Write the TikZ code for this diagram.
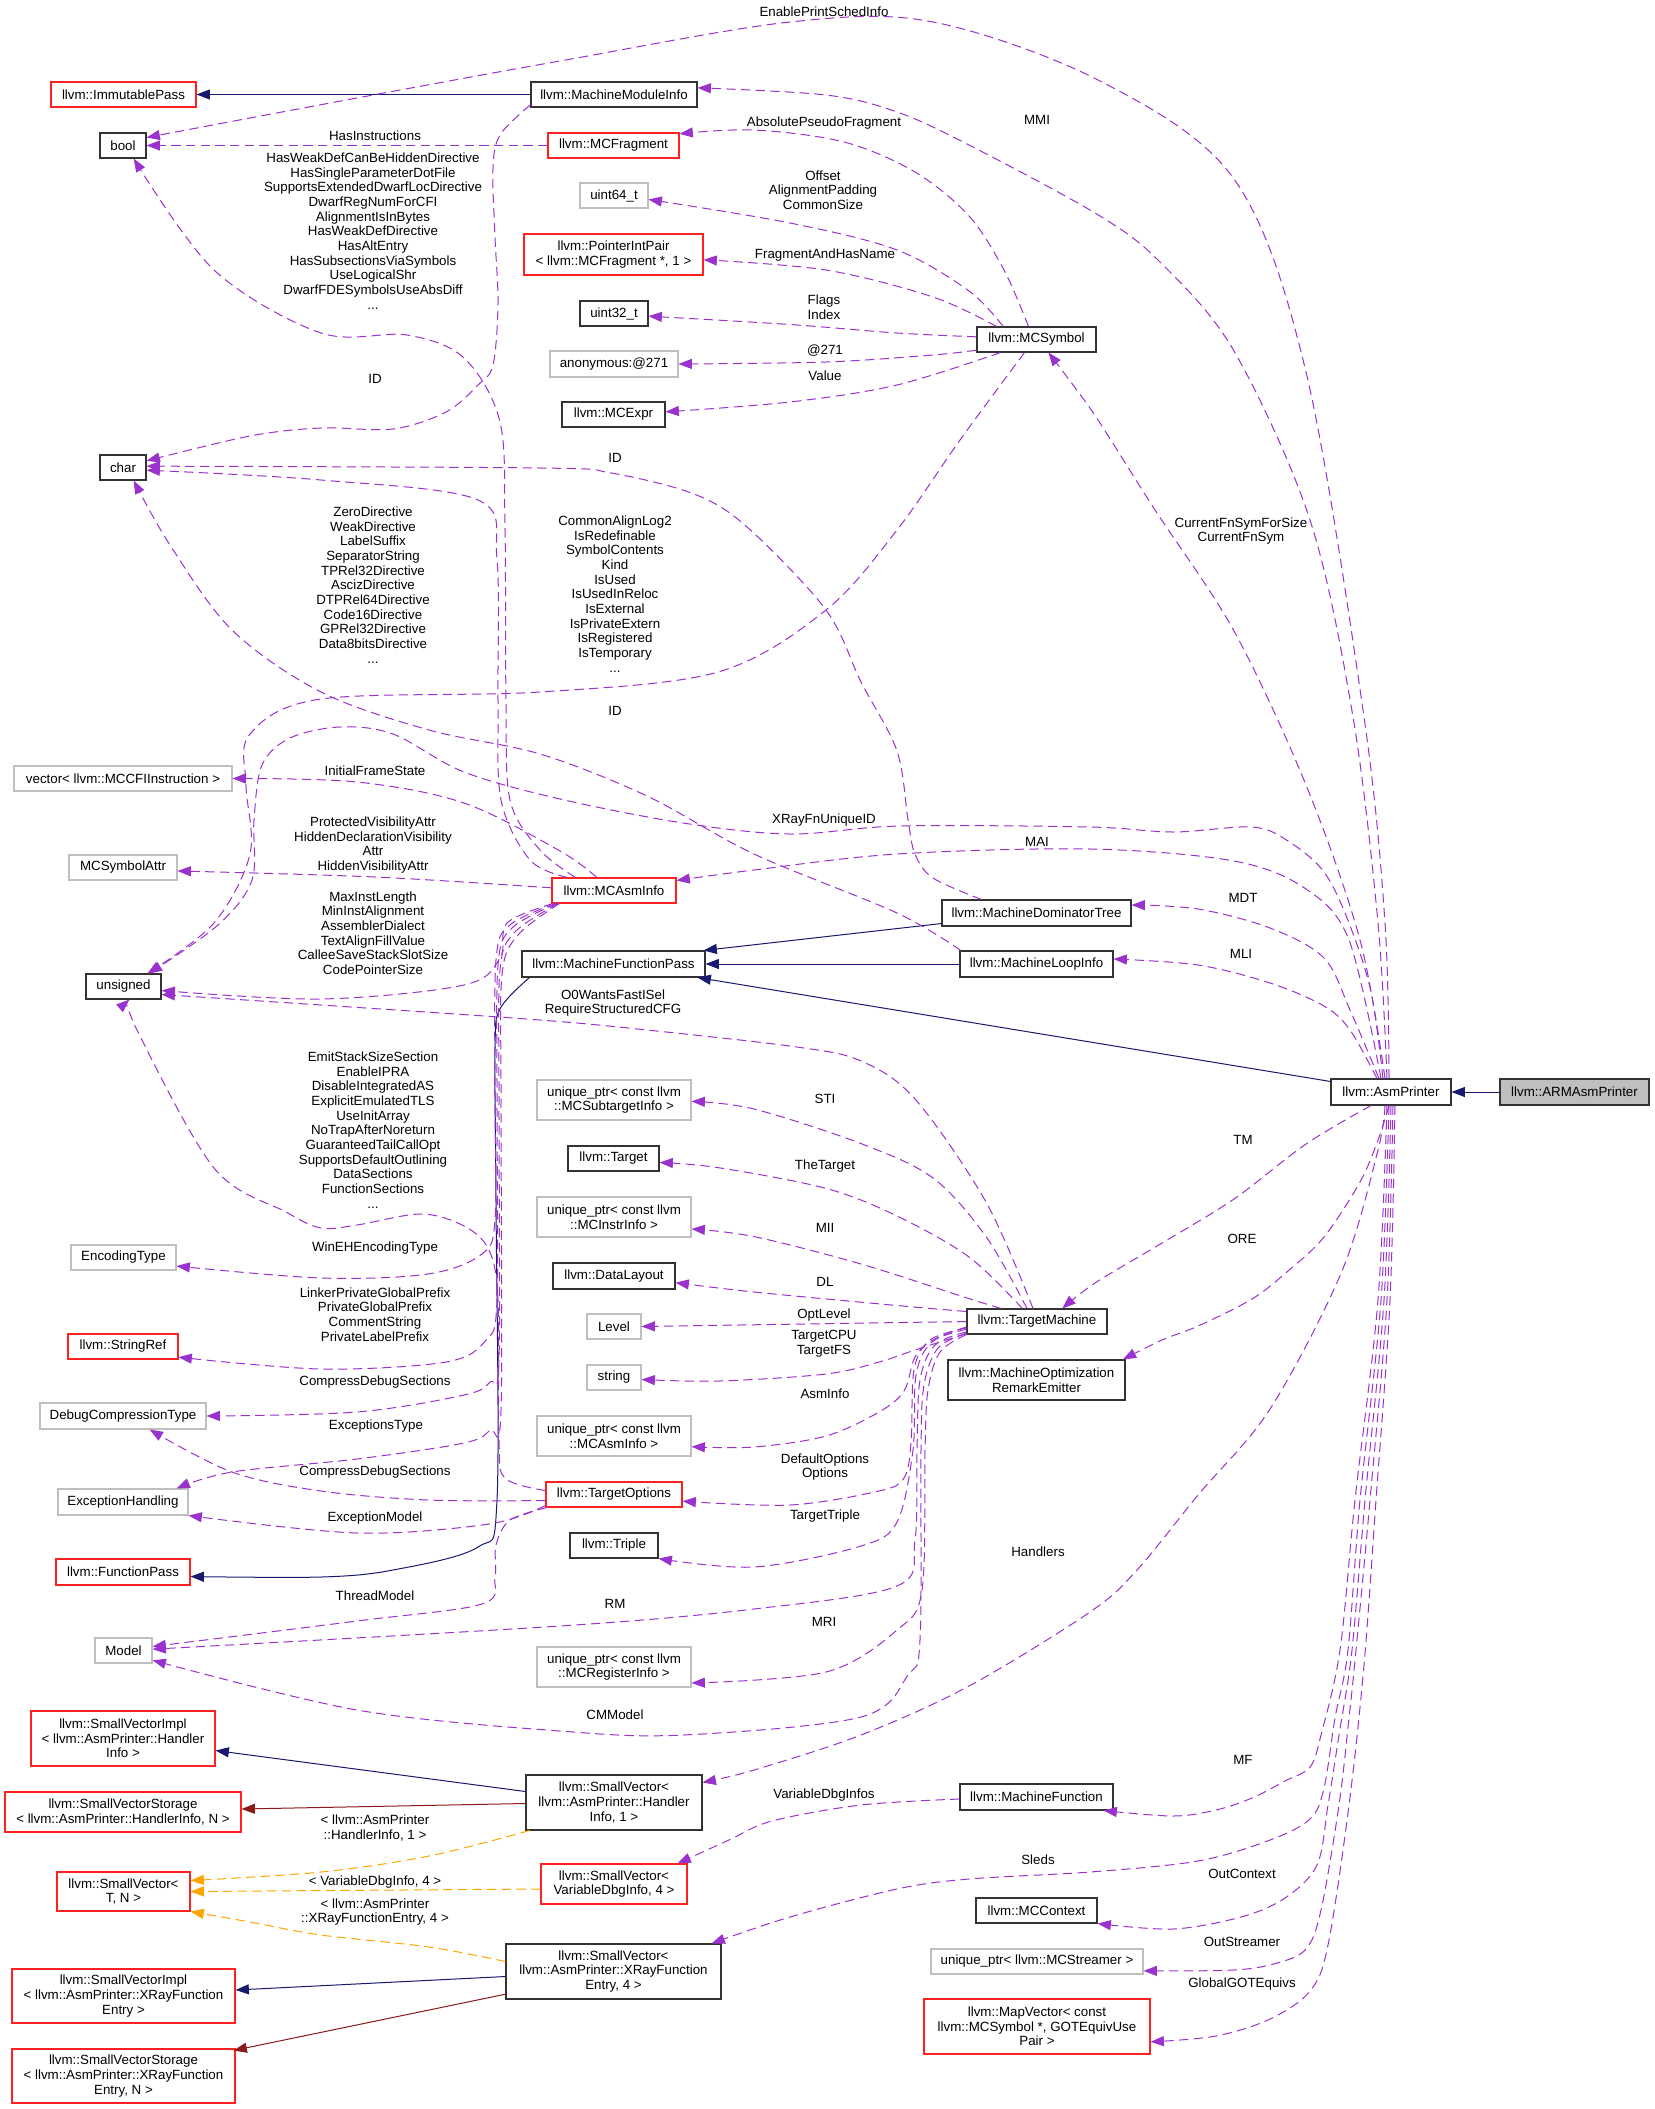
\documentclass[tikz,border=0pt]{standalone}
\usepackage{fontspec}
\setmainfont{Liberation Sans}
\usetikzlibrary{arrows.meta,calc}
\definecolor{usec}{HTML}{9A32CD}
\definecolor{inhc}{HTML}{191970}
\definecolor{privc}{HTML}{8B1A1A}
\definecolor{tmplc}{HTML}{FFA500}
\definecolor{grayb}{HTML}{BFBFBF}
\definecolor{redb}{HTML}{FF2020}
\definecolor{blkb}{HTML}{333333}
\tikzset{
 box/.style={draw, rectangle, inner sep=0pt, align=center, font=\fontsize{10}{11}\selectfont, line width=0.8pt},
 bk/.style={box, draw=blkb},
 rd/.style={box, draw=redb},
 gy/.style={box, draw=grayb},
 armbox/.style={box, draw=blkb, fill=grayb},
 memb/.style={draw=usec, line width=0.75pt, dash pattern=on 7pt off 4pt, -{Triangle[length=10pt,width=7.5pt]}},
 inh/.style={draw=inhc, line width=0.75pt, -{Triangle[length=10pt,width=7.5pt]}},
 priv/.style={draw=privc, line width=0.75pt, -{Triangle[length=10pt,width=7.5pt]}},
 tmpl/.style={draw=tmplc, line width=0.75pt, dash pattern=on 7pt off 4pt, -{Triangle[length=10pt,width=7.5pt]}},
 lbl/.style={inner sep=0pt, align=center, font=\fontsize{10}{11}\selectfont},
}
\newcommand{\bx}[7]{\node[#6,minimum width={(#4-#2)*0.75pt},minimum height={(#5-#3)*0.75pt}] (#1) at ({(#2+#4)/2},{(#3+#5)/2}) {#7};}
\newcommand{\lb}[4]{\node[lbl] (#1) at (#2,#3) {#4};}
\begin{document}
\begin{tikzpicture}[x=0.75pt,y=-0.75pt]
\fill[white] (0,0) rectangle (1655,2109);
\useasboundingbox (0,0) rectangle (1655,2109);
% ---------------- nodes ----------------
\bx{imm}{51}{82}{196}{107}{rd}{llvm::ImmutablePass}
\bx{bool}{100}{133}{146}{158}{bk}{bool}
\bx{mmi}{531}{82}{697}{107}{bk}{llvm::MachineModuleInfo}
\bx{frag}{548}{133}{679}{158}{rd}{llvm::MCFragment}
\bx{u64}{580}{183}{648}{208}{gy}{uint64\_t}
\bx{pip}{524}{234}{703}{275}{rd}{llvm::PointerIntPair\\< llvm::MCFragment *, 1 >}
\bx{u32}{580}{301}{648}{326}{bk}{uint32\_t}
\bx{anon}{550}{351}{678}{377}{gy}{anonymous:@271}
\bx{expr}{562}{402}{665}{427}{bk}{llvm::MCExpr}
\bx{sym}{977}{327}{1096}{352}{bk}{llvm::MCSymbol}
\bx{char}{100}{455}{146}{480}{bk}{char}
\bx{vec}{14}{766}{232}{791}{gy}{vector< llvm::MCCFIInstruction >}
\bx{attr}{69}{855}{177}{880}{gy}{MCSymbolAttr}
\bx{mai}{552}{878}{676}{903}{rd}{llvm::MCAsmInfo}
\bx{mdt}{942}{900}{1131}{926}{bk}{llvm::MachineDominatorTree}
\bx{mli}{960}{951}{1113}{977}{bk}{llvm::MachineLoopInfo}
\bx{mfp}{522}{951}{705}{977}{bk}{llvm::MachineFunctionPass}
\bx{uns}{86}{974}{161}{999}{bk}{unsigned}
\bx{sti}{537}{1080}{691}{1120}{gy}{unique\_ptr< const llvm\\::MCSubtargetInfo >}
\bx{target}{568}{1146}{659}{1171}{bk}{llvm::Target}
\bx{mii}{537}{1197}{691}{1237}{gy}{unique\_ptr< const llvm\\::MCInstrInfo >}
\bx{enc}{71}{1245}{176}{1270}{gy}{EncodingType}
\bx{dl}{553}{1263}{675}{1289}{bk}{llvm::DataLayout}
\bx{level}{587}{1314}{641}{1339}{gy}{Level}
\bx{tm}{967}{1309}{1107}{1334}{bk}{llvm::TargetMachine}
\bx{sref}{68}{1334}{178}{1359}{rd}{llvm::StringRef}
\bx{string}{587}{1365}{641}{1390}{gy}{string}
\bx{ore}{948}{1360}{1125}{1400}{bk}{llvm::MachineOptimization\\RemarkEmitter}
\bx{dct}{40}{1403}{206}{1429}{gy}{DebugCompressionType}
\bx{amai}{537}{1416}{691}{1456}{gy}{unique\_ptr< const llvm\\::MCAsmInfo >}
\bx{topt}{546}{1482}{682}{1507}{rd}{llvm::TargetOptions}
\bx{eh}{58}{1489}{188}{1515}{gy}{ExceptionHandling}
\bx{triple}{570}{1533}{658}{1558}{bk}{llvm::Triple}
\bx{fp}{56}{1559}{190}{1585}{rd}{llvm::FunctionPass}
\bx{asmp}{1331}{1079}{1451}{1105}{bk}{llvm::AsmPrinter}
\bx{arm}{1500}{1079}{1649}{1105}{armbox}{llvm::ARMAsmPrinter}
\bx{model}{95}{1638}{152}{1663}{gy}{Model}
\bx{mri}{537}{1647}{691}{1687}{gy}{unique\_ptr< const llvm\\::MCRegisterInfo >}
\bx{svih}{31}{1711}{215}{1766}{rd}{llvm::SmallVectorImpl\\< llvm::AsmPrinter::Handler\\Info >}
\bx{svhi1}{526}{1775}{702}{1830}{bk}{llvm::SmallVector<\\ llvm::AsmPrinter::Handler\\Info, 1 >}
\bx{mf}{960}{1784}{1113}{1810}{bk}{llvm::MachineFunction}
\bx{svsh}{5}{1792}{241}{1832}{rd}{llvm::SmallVectorStorage\\< llvm::AsmPrinter::HandlerInfo, N >}
\bx{svvdi}{541}{1864}{687}{1904}{rd}{llvm::SmallVector<\\VariableDbgInfo, 4 >}
\bx{svtn}{57}{1872}{190}{1911}{rd}{llvm::SmallVector<\\T, N >}
\bx{mcctx}{976}{1898}{1097}{1923}{bk}{llvm::MCContext}
\bx{svx4}{506}{1944}{721}{1999}{bk}{llvm::SmallVector<\\llvm::AsmPrinter::XRayFunction\\Entry, 4 >}
\bx{strm}{931}{1949}{1143}{1974}{gy}{unique\_ptr< llvm::MCStreamer >}
\bx{svix}{12}{1969}{235}{2023}{rd}{llvm::SmallVectorImpl\\< llvm::AsmPrinter::XRayFunction\\Entry >}
\bx{mapv}{924}{1999}{1150}{2054}{rd}{llvm::MapVector< const\\llvm::MCSymbol *, GOTEquivUse\\Pair >}
\bx{svsx}{12}{2049}{235}{2103}{rd}{llvm::SmallVectorStorage\\< llvm::AsmPrinter::XRayFunction\\Entry, N >}
% ---------------- inheritance ----------------
\draw[inh] (mmi.west) -- (imm.east);
\draw[inh] ([yshift=2.25pt]mdt.south west) -- ([xshift=-1.5pt]mfp.north east);
\draw[inh] (mli.west) -- (mfp.east);
\draw[inh] ([yshift=-2.25pt]asmp.north west) -- ([xshift=-6pt]mfp.south east);
\draw[inh] (arm.west) -- (asmp.east);
\draw[inh] plot[smooth,tension=0.55] coordinates {([xshift=6pt]mfp.south west) (500,1009) (495,1050) (496,1200) (497,1500) (478,1547) (393,1570) (321,1577) ([yshift=-3.4pt]fp.east)};
\draw[inh] ([yshift=8.25pt]svhi1.west) -- ([yshift=-9pt]svih.east);
\draw[priv] ([yshift=-0.75pt]svhi1.west) -- ([yshift=2.25pt]svsh.east);
\draw[inh] ([yshift=-3.75pt]svx4.west) -- ([yshift=4.5pt]svix.east);
\draw[priv] ([yshift=-17pt]svx4.west) -- ([xshift=-1.5pt,yshift=-1.5pt]svsx.north east);
% ---------------- template instances ----------------
\draw[tmpl] plot[smooth,tension=0.55] coordinates {([xshift=3pt]svhi1.south west) (429,1856) (321,1872) ([yshift=8.25pt]svtn.east)};
\draw[tmpl] ([yshift=-3.75pt]svvdi.west) -- (svtn.east);
\draw[tmpl] plot[smooth,tension=0.55] coordinates {([yshift=7.5pt]svx4.west) (429,1947) (321,1935) (250,1922) (svtn.south east)};
% ---------------- usage: AsmPrinter ----------------
\draw[memb] plot[smooth,tension=0.55] coordinates {([xshift=-1.5pt]asmp.north) (1385,923) (1364,717) (1306,372) (1234,179) (1100,81) (933,22) (790,22) (560,61) (357,98) ([yshift=6pt]bool.east)};
\draw[memb] plot[smooth,tension=0.55] coordinates {([xshift=-3pt]asmp.north) (1378,923) (1353,717) (1310,520) (1234,351) (1162,264) (1100,216) (969,145) (897,112) (826,95) ([yshift=5pt]mmi.east)};
\draw[memb] plot[smooth,tension=0.55] coordinates {([xshift=-4.5pt]asmp.north) (1360,940) (1306,785) (1234,631) (1155,510) (1100,423) (1076,389) ([xshift=9pt]sym.south)};
\draw[memb] plot[smooth,tension=0.55] coordinates {([xshift=-6pt]asmp.north) (1371,992) (1349,923) (1324,872) (1288,841) (1252,827) (1173,832) (1090,827) (900,826) (790,834) (683,823) (560,799) (464,772) (393,734) (340,727) (290,738) (262,765) (254,820) (252,880) (218,925) ([xshift=19pt]uns.north)};
\draw[memb] plot[smooth,tension=0.55] coordinates {([xshift=-7.5pt]asmp.north) (1349,940) (1306,889) (1234,861) (1090,849) (897,854) (754,870) ([yshift=7.5pt]mai.east)};
\draw[memb] plot[smooth,tension=0.55] coordinates {([xshift=-9pt]asmp.north) (1350,1010) (1324,958) (1270,928) (1198,909) ([yshift=6pt]mdt.east)};
\draw[memb] plot[smooth,tension=0.55] coordinates {([xshift=-10.5pt]asmp.north) (1350,1030) (1324,1006) (1270,983) (1198,965) ([yshift=3.75pt]mli.east)};
\draw[memb] plot[smooth,tension=0.55] coordinates {([xshift=-15pt]asmp.south) (1306,1144) (1234,1199) (1162,1243) (1095,1283) ([xshift=19pt]tm.north)};
\draw[memb] plot[smooth,tension=0.55] coordinates {([xshift=-1.5pt]asmp.south) (1378,1140) (1360,1182) (1324,1237) (1288,1271) (1252,1299) (1198,1326) (1162,1340) ([xshift=-2pt]ore.north east)};
\draw[memb] plot[smooth,tension=0.55] coordinates {([xshift=-4.5pt]asmp.south) (1378,1150) (1342,1271) (1270,1409) (1198,1495) (1137,1570) (1090,1612) (969,1686) (861,1735) (754,1770) ([yshift=-6pt]svhi1.north east)};
\draw[memb] plot[smooth,tension=0.55] coordinates {([xshift=-3pt]asmp.south) (1378,1300) (1355,1500) (1340,1650) (1321,1735) (1310,1767) (1285,1781) (1252,1798) (1216,1810) (1173,1816) ([xshift=-7.5pt]mf.south east)};
\draw[memb] plot[smooth,tension=0.55] coordinates {([xshift=-1.5pt]asmp.south) (1381,1300) (1360,1500) (1348,1650) (1335,1718) (1324,1788) (1310,1819) (1270,1840) (1198,1861) (1090,1872) (969,1879) (897,1889) (790,1917) ([xshift=-7.5pt]svx4.north east)};
\draw[memb] plot[smooth,tension=0.55] coordinates {(asmp.south) (1384,1300) (1365,1500) (1352,1650) (1339,1735) (1328,1805) (1317,1865) (1285,1898) (1241,1917) (1173,1929) (mcctx.south east)};
\draw[memb] plot[smooth,tension=0.55] coordinates {([xshift=1.5pt]asmp.south) (1387,1300) (1370,1500) (1356,1650) (1349,1718) (1339,1805) (1321,1910) (1306,1949) (1277,1963) (1234,1970) ([yshift=-7pt]strm.east)};
\draw[memb] plot[smooth,tension=0.55] coordinates {([xshift=3pt]asmp.south) (1390,1300) (1376,1500) (1364,1665) (1349,1805) (1328,1945) (1310,1991) (1270,2019) (1216,2036) ([yshift=-11.5pt]mapv.east)};
\draw[memb] plot[smooth,tension=0.55] coordinates {([yshift=-1.5pt]mf.west) (861,1805) (772,1821) (729,1840) ([xshift=-7.5pt]svvdi.north east)};
% ---------------- usage: MCSymbol ----------------
\draw[memb] plot[smooth,tension=0.55] coordinates {([xshift=-6pt]sym.north) (1004,270) (969,216) (915,172) (844,142) (754,130) ([yshift=-1pt]frag.north east)};
\draw[memb] plot[smooth,tension=0.55] coordinates {([xshift=20pt]sym.north west) (969,291) (897,250) (790,223) ([yshift=-3pt]u64.east)};
\draw[memb] plot[smooth,tension=0.55] coordinates {([xshift=15pt]sym.north west) (933,297) (826,270) ([yshift=-4pt]pip.east)};
\draw[memb] plot[smooth,tension=0.55] coordinates {([yshift=2pt]sym.west) (897,333) (790,324.5) ([yshift=-2pt]u32.east)};
\draw[memb] plot[smooth,tension=0.55] coordinates {([yshift=-8pt]sym.west) (933,355) (826,362) (anon.east)};
\draw[memb] plot[smooth,tension=0.55] coordinates {([xshift=18pt]sym.south west) (897,385) (790,402) ([yshift=2pt]expr.east)};
\draw[memb] plot[smooth,tension=0.55] coordinates {([xshift=-9pt]sym.south) (960,440) (897,530) (826,610) (718,672) (540,692) (321,699) (250,734) (246,785) (250,854) (214,923) ([xshift=18pt]uns.north)};
% ---------------- usage: bool / char ----------------
\draw[memb] (frag.west) -- (bool.east);
\draw[memb] plot[smooth,tension=0.55] coordinates {([xshift=18pt]mai.north west) (540,850) (510,800) (506,700) (505,530) (500,422) (464,358) (407,335) (321,333) (214,270) ([xshift=8pt]bool.south)};
\draw[memb] plot[smooth,tension=0.55] coordinates {([yshift=2pt]mmi.south west) (500,135) (493,169) (495,237) (498,304) (493,365) (478,385) (446,412) (393,429) (321,428) (250,436) ([yshift=5pt]char.east)};
\draw[memb] plot[smooth,tension=0.55] coordinates {([xshift=30pt]mdt.north west) (933,878) (915,854) (908,820) (897,751) (861,682) (826,610) (747,527) (694,494) (611,473) (540,468) ([yshift=1pt]char.east)};
\draw[memb] plot[smooth,tension=0.55] coordinates {([xshift=1pt]mli.north west) (897,913) (754,854) (647,796) (540,754) (429,730) (321,692) (232,630) (170,545) ([xshift=8pt]char.south)};
\draw[memb] plot[smooth,tension=0.55] coordinates {([xshift=12pt]mai.north west) (530,860) (501,800) (498,700) (497,560) (478,500) (321,480) ([yshift=-2pt]char.east)};
% ---------------- usage: MCAsmInfo ----------------
\draw[memb] plot[smooth,tension=0.55] coordinates {([xshift=34pt]mai.north west) (560,851) (464,803) (357,782) (vec.east)};
\draw[memb] plot[smooth,tension=0.55] coordinates {([yshift=2pt]mai.west) (375,877) ([yshift=-2.6pt]attr.east)};
\draw[memb] plot[smooth,tension=0.55] coordinates {([xshift=1pt]mai.south west) (507,923) (500,958) (464,985) (321,999) ([yshift=-3pt]uns.east)};
\draw[memb] plot[smooth,tension=0.55] coordinates {([xshift=3pt]mai.south west) (510,925) (496,960) (495,1100) (495,1220) (482,1254) (428,1274) (321,1278) ([yshift=-6.4pt]enc.east)};
\draw[memb] plot[smooth,tension=0.55] coordinates {([xshift=4pt]mai.south west) (512,928) (498,965) (497,1100) (497,1300) (486,1340) (446,1362) (321,1369) ([yshift=-8pt]sref.east)};
\draw[memb] plot[smooth,tension=0.55] coordinates {([xshift=5pt]mai.south west) (515,932) (500,970) (499,1100) (499,1360) (490,1382) (464,1395) (357,1412) (dct.east)};
\draw[memb] plot[smooth,tension=0.55] coordinates {([xshift=6pt]mai.south west) (518,935) (502,975) (501,1100) (501,1410) (490,1430) (464,1443) (357,1459) (232,1472) ([xshift=-9pt]eh.north east)};
% ---------------- usage: TargetOptions ----------------
\draw[memb] plot[smooth,tension=0.55] coordinates {([yshift=3pt]topt.west) (505,1478) (499,1440) (498,1300) (489,1250) (464,1226) (421,1214) (357,1225) (321,1228) (286,1212) (214,1168) (137,1030) ([xshift=4.5pt]uns.south)};
\draw[memb] plot[smooth,tension=0.55] coordinates {([yshift=-4.5pt]topt.west) (428,1500) (321,1491) (232,1472) ([xshift=20pt]dct.south)};
\draw[memb] plot[smooth,tension=0.55] coordinates {([yshift=1.5pt]topt.south west) (489,1524) (357,1533) (eh.south east)};
\draw[memb] plot[smooth,tension=0.55] coordinates {([xshift=1pt]topt.south west) (510,1520) (496,1545) (495,1577) (482,1604) (357,1621) ([yshift=3pt]model.east)};
% ---------------- usage: TargetMachine ----------------
\draw[memb] plot[smooth,tension=0.55] coordinates {([xshift=-3pt]tm.north) (986,1202) (915,1099) (861,1061) (797,1047) (647,1030) (540,1020) (321,1005) ([yshift=-6pt]uns.east)};
\draw[memb] plot[smooth,tension=0.55] coordinates {([xshift=-7.5pt]tm.north) (986,1236.6) (933,1178) (861,1143.6) (754,1109) ([yshift=-1pt]sti.east)};
\draw[memb] plot[smooth,tension=0.55] coordinates {([xshift=-11pt]tm.north) (969,1257) (897,1216) (826,1188.4) (718.6,1167.7) ([yshift=-3pt]target.east)};
\draw[memb] plot[smooth,tension=0.55] coordinates {([xshift=26pt]tm.north west) (969,1298.6) (861,1264) (754,1236.6) ([yshift=-9pt]mii.east)};
\draw[memb] plot[smooth,tension=0.55] coordinates {([yshift=-2.25pt]tm.north west) (897,1305.5) (754,1292) ([yshift=-5pt]dl.east)};
\draw[memb] (tm.west) -- (level.east);
\draw[memb] plot[smooth,tension=0.55] coordinates {([yshift=0.75pt]tm.south west) (915,1350) (879,1362) (826,1374) (719,1381) ([yshift=-1.5pt]string.east)};
\draw[memb] plot[smooth,tension=0.55] coordinates {([yshift=-4pt]tm.west) (933,1340) (915,1357) (904,1391) (879,1412) (826,1436) (754,1447) ([yshift=-8pt]amai.east)};
\draw[memb] plot[smooth,tension=0.55] coordinates {([yshift=5pt]tm.south west) (930,1340) (914,1370) (911,1443) (904,1478) (879,1491) (790,1505) ([yshift=-5pt]topt.east)};
\draw[memb] plot[smooth,tension=0.55] coordinates {([yshift=4pt]tm.south west) (932,1342) (916,1375) (913,1450) (897,1522) (861,1546) (754,1567) (triple.south east)};
\draw[memb] plot[smooth,tension=0.55] coordinates {([yshift=2pt]tm.south west) (935,1345) (920,1380) (917,1450) (915,1540) (897,1586) (754,1609) (560,1626) ([yshift=1pt]model.east)};
\draw[memb] plot[smooth,tension=0.55] coordinates {(tm.south west) (940,1352) (928,1390) (925,1450) (922,1590) (897,1630) (826,1672) ([yshift=-12pt]mri.east)};
\draw[memb] plot[smooth,tension=0.55] coordinates {([yshift=1pt]tm.south west) (938,1348) (924,1385) (921,1450) (920,1640) (908,1675) (861,1717) (683,1735) (560,1731) (357,1710) ([yshift=2.5pt]model.south east)};
% ---------------- labels ----------------
\lb{l1}{824}{12}{EnablePrintSchedInfo}
\lb{l2}{1037}{120}{MMI}
\lb{l3}{375}{136}{HasInstructions}
\lb{l4}{824}{123}{AbsolutePseudoFragment}
\lb{l5}{823}{190}{Offset\\AlignmentPadding\\CommonSize}
\lb{l6}{373}{231}{HasWeakDefCanBeHiddenDirective\\HasSingleParameterDotFile\\SupportsExtendedDwarfLocDirective\\DwarfRegNumForCFI\\AlignmentIsInBytes\\HasWeakDefDirective\\HasAltEntry\\HasSubsectionsViaSymbols\\UseLogicalShr\\DwarfFDESymbolsUseAbsDiff\\...}
\lb{l7}{825}{255}{FragmentAndHasName}
\lb{l8}{824}{307}{Flags\\Index}
\lb{l9}{825}{351}{@271}
\lb{l10}{825}{376}{Value}
\lb{l11}{375}{379}{ID}
\lb{l12}{615}{458}{ID}
\lb{l13}{1241}{531}{CurrentFnSymForSize\\CurrentFnSym}
\lb{l14}{373}{585}{ZeroDirective\\WeakDirective\\LabelSuffix\\SeparatorString\\TPRel32Directive\\AscizDirective\\DTPRel64Directive\\Code16Directive\\GPRel32Directive\\Data8bitsDirective\\...}
\lb{l15}{615}{594}{CommonAlignLog2\\IsRedefinable\\SymbolContents\\Kind\\IsUsed\\IsUsedInReloc\\IsExternal\\IsPrivateExtern\\IsRegistered\\IsTemporary\\...}
\lb{l16}{615}{711}{ID}
\lb{l17}{375}{771}{InitialFrameState}
\lb{l18}{824}{820}{XRayFnUniqueID}
\lb{l19}{1037}{842}{MAI}
\lb{l20}{373}{845}{ProtectedVisibilityAttr\\HiddenDeclarationVisibility\\Attr\\HiddenVisibilityAttr}
\lb{l21}{1243}{898}{MDT}
\lb{l22}{373}{933}{MaxInstLength\\MinInstAlignment\\AssemblerDialect\\TextAlignFillValue\\CalleeSaveStackSlotSize\\CodePointerSize}
\lb{l23}{1241}{954}{MLI}
\lb{l24}{613}{1003}{O0WantsFastISel\\RequireStructuredCFG}
\lb{l25}{825}{1099}{STI}
\lb{l26}{373}{1130}{EmitStackSizeSection\\EnableIPRA\\DisableIntegratedAS\\ExplicitEmulatedTLS\\UseInitArray\\NoTrapAfterNoreturn\\GuaranteedTailCallOpt\\SupportsDefaultOutlining\\DataSections\\FunctionSections\\...}
\lb{l27}{1243}{1140}{TM}
\lb{l28}{825}{1166}{TheTarget}
\lb{l29}{825}{1228}{MII}
\lb{l30}{1242}{1239}{ORE}
\lb{l31}{375}{1248}{WinEHEncodingType}
\lb{l32}{825}{1282}{DL}
\lb{l33}{375}{1314.5}{LinkerPrivateGlobalPrefix\\PrivateGlobalPrefix\\CommentString\\PrivateLabelPrefix}
\lb{l34}{824}{1315}{OptLevel}
\lb{l35}{824}{1343.5}{TargetCPU\\TargetFS}
\lb{l36}{375}{1382}{CompressDebugSections}
\lb{l37}{825}{1394}{AsmInfo}
\lb{l38}{376}{1426}{ExceptionsType}
\lb{l39}{825}{1467}{DefaultOptions\\Options}
\lb{l40}{375}{1472}{CompressDebugSections}
\lb{l41}{825}{1516}{TargetTriple}
\lb{l42}{375}{1518}{ExceptionModel}
\lb{l43}{1038}{1552}{Handlers}
\lb{l44}{375}{1596}{ThreadModel}
\lb{l45}{615}{1604}{RM}
\lb{l46}{824}{1622}{MRI}
\lb{l47}{615}{1715}{CMModel}
\lb{l48}{1243}{1760}{MF}
\lb{l49}{824}{1795}{VariableDbgInfos}
\lb{l50}{375}{1828}{< llvm::AsmPrinter\\::HandlerInfo, 1 >}
\lb{l51}{1038}{1860}{Sleds}
\lb{l52}{1242}{1874}{OutContext}
\lb{l53}{375}{1882}{< VariableDbgInfo, 4 >}
\lb{l54}{375}{1912}{< llvm::AsmPrinter\\::XRayFunctionEntry, 4 >}
\lb{l55}{1242}{1942}{OutStreamer}
\lb{l56}{1242}{1984}{GlobalGOTEquivs}
\end{tikzpicture}
\end{document}
